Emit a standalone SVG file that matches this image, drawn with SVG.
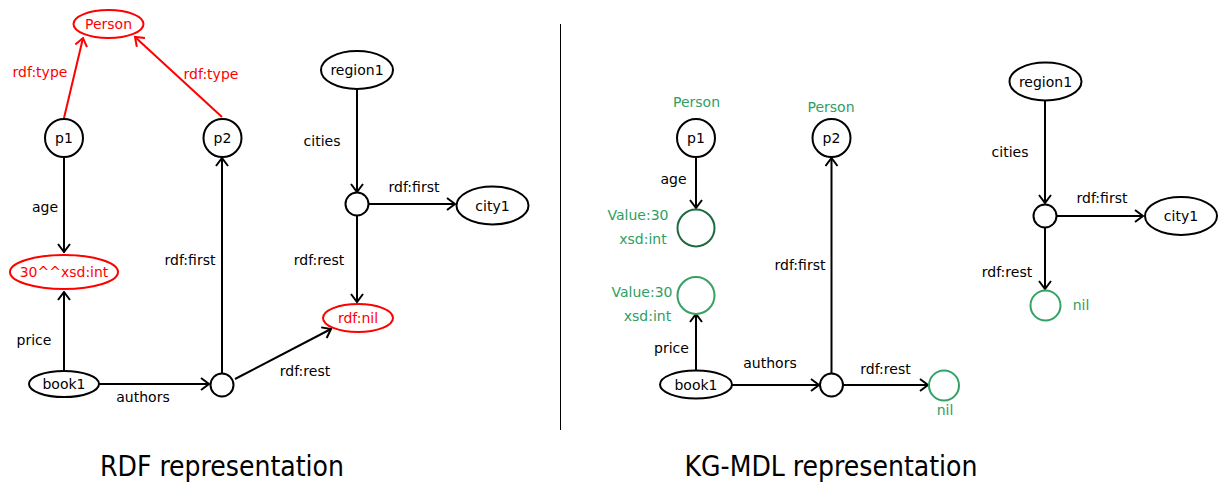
<svg xmlns="http://www.w3.org/2000/svg" width="1219" height="483" viewBox="0 0 1219 483">
<style>
text{font-family:"DejaVu Sans","Liberation Sans",sans-serif;font-size:14px;text-anchor:middle;fill:#000}
.red{fill:#ff0000}
.grn{fill:#2f9e63}
.title{font-family:"DejaVu Sans Condensed","DejaVu Sans",sans-serif;font-size:28px}
.node{fill:#fff;stroke:#000;stroke-width:2}
.rnode{fill:#fff;stroke:#ff0000;stroke-width:2}
.dg{fill:#fff;stroke:#1f6b3f;stroke-width:2}
.lg{fill:#fff;stroke:#35a165;stroke-width:2}
.e{stroke:#000;stroke-width:2;fill:none;marker-end:url(#ab)}
.er{stroke:#ff0000;stroke-width:2;fill:none;marker-end:url(#ar)}
</style>
<defs>
<marker id="ab" viewBox="0 0 10 14" refX="9" refY="7" markerWidth="10" markerHeight="14" markerUnits="userSpaceOnUse" orient="auto">
<path d="M1,1 L9,7 L1,13" fill="none" stroke="#000" stroke-width="2"/>
</marker>
<marker id="ar" viewBox="0 0 10 14" refX="9" refY="7" markerWidth="10" markerHeight="14" markerUnits="userSpaceOnUse" orient="auto">
<path d="M1,1 L9,7 L1,13" fill="none" stroke="#ff0000" stroke-width="2"/>
</marker>
</defs>
<rect width="1219" height="483" fill="#fff"/>
<line x1="560.5" y1="24" x2="560.5" y2="430" stroke="#000" stroke-width="1"/>

<g id="connectors">
<line class="er" x1="64" y1="118" x2="83" y2="38"/>
<line class="er" x1="222" y1="117" x2="135" y2="37"/>
<line class="e" x1="64" y1="157" x2="64" y2="252"/>
<line class="e" x1="64" y1="371" x2="64" y2="292"/>
<line class="e" x1="99" y1="384" x2="209" y2="384"/>
<line class="e" x1="222" y1="373" x2="222" y2="158"/>
<line class="e" x1="235" y1="379" x2="331" y2="329"/>
<line class="e" x1="357" y1="90" x2="357" y2="192"/>
<line class="e" x1="369" y1="204" x2="455" y2="204"/>
<line class="e" x1="357" y1="216" x2="357" y2="302"/>

<line class="e" x1="696" y1="157" x2="696" y2="208"/>
<line class="e" x1="696" y1="370" x2="696" y2="314"/>
<line class="e" x1="732" y1="385" x2="819" y2="385"/>
<line class="e" x1="831.5" y1="373" x2="831.5" y2="158"/>
<line class="e" x1="843" y1="385" x2="928" y2="385"/>
<line class="e" x1="1045" y1="101" x2="1045" y2="203"/>
<line class="e" x1="1057" y1="216" x2="1143" y2="216"/>
<line class="e" x1="1045" y1="228" x2="1045" y2="289"/>
</g>

<g id="edge-labels">
<text class="red" x="40" y="77">rdf:type</text>
<text class="red" x="211" y="79">rdf:type</text>
<text x="45" y="212">age</text>
<text x="34" y="345">price</text>
<text x="143" y="402">authors</text>
<text x="190" y="265">rdf:first</text>
<text x="305" y="376">rdf:rest</text>
<text x="322" y="146">cities</text>
<text x="414" y="192">rdf:first</text>
<text x="319" y="265">rdf:rest</text>

<text x="673.5" y="184">age</text>
<text x="671.5" y="353">price</text>
<text x="770" y="368">authors</text>
<text x="800" y="270">rdf:first</text>
<text x="885.5" y="374">rdf:rest</text>
<text x="1010" y="157">cities</text>
<text x="1102" y="203">rdf:first</text>
<text x="1007" y="277">rdf:rest</text>
</g>

<g id="rdf-person"><ellipse class="rnode" cx="108.5" cy="24" rx="35" ry="14"/><text class="red" x="108.5" y="29">Person</text></g>
<g id="rdf-p1"><circle class="node" cx="64" cy="138" r="19"/><text x="64" y="143">p1</text></g>
<g id="rdf-p2"><circle class="node" cx="222.5" cy="138" r="19"/><text x="222.5" y="143">p2</text></g>
<g id="rdf-literal"><ellipse class="rnode" cx="64" cy="272" rx="54" ry="17"/><text class="red" x="64" y="277">30^^xsd:int</text></g>
<g id="rdf-book1"><ellipse class="node" cx="64" cy="384" rx="35" ry="13"/><text x="64" y="389">book1</text></g>
<g id="rdf-list1"><circle class="node" cx="222" cy="385" r="11.5"/></g>
<g id="rdf-nil"><ellipse class="rnode" cx="358" cy="318" rx="35" ry="14"/><text class="red" x="358" y="323">rdf:nil</text></g>
<g id="rdf-region1"><ellipse class="node" cx="357" cy="70" rx="36" ry="19"/><text x="357" y="75">region1</text></g>
<g id="rdf-list2"><circle class="node" cx="357" cy="204" r="11.5"/></g>
<g id="rdf-city1"><ellipse class="node" cx="492.5" cy="205.5" rx="36" ry="19"/><text x="492.5" y="210.5">city1</text></g>

<g id="kg-p1"><circle class="node" cx="696" cy="138" r="19"/><text x="696" y="143">p1</text><text class="grn" x="696.5" y="107">Person</text></g>
<g id="kg-p2"><circle class="node" cx="831.5" cy="138" r="19"/><text x="831.5" y="143">p2</text><text class="grn" x="831" y="112">Person</text></g>
<g id="kg-value1"><circle class="dg" cx="696" cy="228" r="18.5"/><text class="grn" x="638" y="220">Value:30</text><text class="grn" x="643" y="244">xsd:int</text></g>
<g id="kg-value2"><circle class="lg" cx="696" cy="295.5" r="18.5"/><text class="grn" x="642" y="297">Value:30</text><text class="grn" x="647.5" y="321">xsd:int</text></g>
<g id="kg-book1"><ellipse class="node" cx="696" cy="384.5" rx="36" ry="14"/><text x="696" y="390">book1</text></g>
<g id="kg-list1"><circle class="node" cx="831.5" cy="385" r="11.5"/></g>
<g id="kg-nil1"><circle class="lg" cx="944" cy="385.5" r="15"/><text class="grn" x="945" y="415">nil</text></g>
<g id="kg-region1"><ellipse class="node" cx="1045.5" cy="81.5" rx="36" ry="19"/><text x="1045.5" y="86.5">region1</text></g>
<g id="kg-list2"><circle class="node" cx="1045" cy="216" r="11.5"/></g>
<g id="kg-city1"><ellipse class="node" cx="1181" cy="216" rx="36" ry="19"/><text x="1181" y="221">city1</text></g>
<g id="kg-nil2"><circle class="lg" cx="1045.5" cy="305.5" r="15"/><text class="grn" x="1081" y="310">nil</text></g>

<g id="titles">
<text class="title" x="222" y="476">RDF representation</text>
<text class="title" x="831" y="476">KG-MDL representation</text>
</g>
</svg>
